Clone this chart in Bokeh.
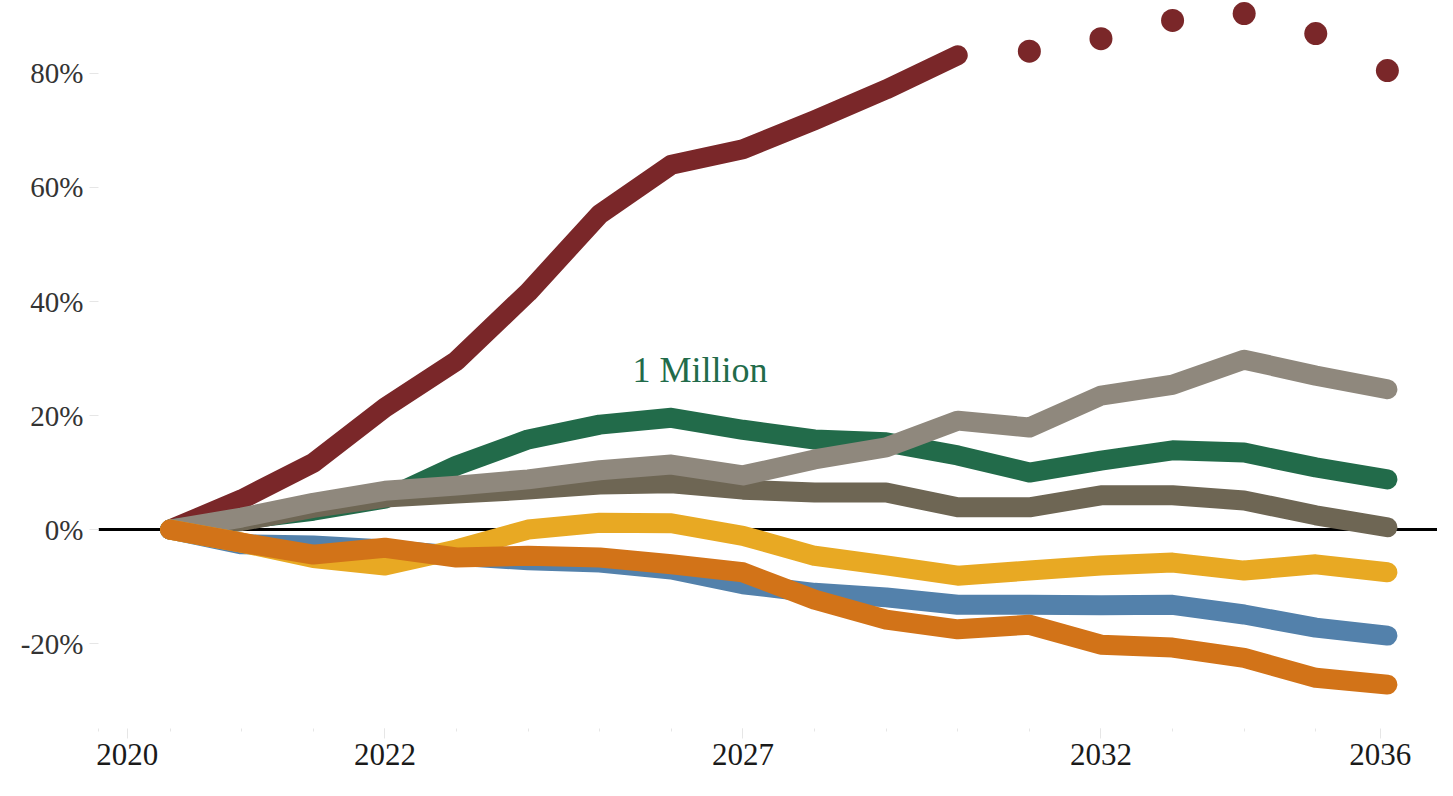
from bokeh.plotting import figure
from bokeh.models import Range1d, FixedTicker, PrintfTickFormatter, Span, Label
from bokeh.embed import file_html
from bokeh.resources import INLINE

# ---- data ----
years = list(range(2019, 2037))
red_vals = [0, 5.3, 11.7, 21.4, 29.6, 41.6, 55.3, 64.0, 66.7, 71.8, 77.2, 83.2,
            83.9, 86.1, 89.3, 90.5, 87.0, 80.5]
red_last_actual = 2030
green_vals = [0, 1.8, 3.3, 5.4, 11.2, 15.8, 18.4, 19.6, 17.5, 15.8, 15.3, 13.0,
              10.0, 12.1, 13.9, 13.5, 10.9, 8.8]
darkgray_vals = [0, 1.5, 3.8, 5.6, 6.3, 7.0, 7.9, 8.1, 7.0, 6.5, 6.5, 3.9,
                 3.9, 6.0, 6.0, 5.1, 2.5, 0.4]
lightgray_vals = [0, 2.1, 4.7, 6.8, 7.7, 8.8, 10.4, 11.4, 9.5, 12.3, 14.4, 19.1,
                  17.9, 23.5, 25.4, 29.8, 27.0, 24.6]
blue_vals = [0, -2.6, -2.8, -3.5, -4.6, -5.4, -5.8, -7.0, -9.6, -11.1, -11.9, -13.2,
             -13.2, -13.3, -13.2, -14.9, -17.2, -18.6]
yellow_vals = [0, -2.3, -5.0, -6.3, -3.5, 0.0, 1.2, 1.1, -1.1, -4.6, -6.3, -8.1,
               -7.2, -6.3, -5.8, -7.2, -6.1, -7.5]
orange_vals = [0, -2.3, -4.4, -3.2, -4.9, -4.6, -4.9, -6.1, -7.5, -12.3, -15.8, -17.5,
               -16.7, -20.2, -20.7, -22.5, -26.0, -27.2]

x_major_ticks = [2022, 2027, 2032]
x_end_label_pos = [2018.4, 2035.9]
x_end_labels = ["2020", "2036"]
y_ticks = [-20, 0, 20, 40, 60, 80]
annotation_text = "1 Million"

# ---- styles ----
RED = "#7a2729"
GREEN = "#226b4a"
DARKGRAY = "#6e6654"
LIGHTGRAY = "#8f887d"
BLUE = "#5381ab"
YELLOW = "#e8a923"
ORANGE = "#d27318"
FONT = "Liberation Serif"
LW = 20

p = figure(width=1437, height=780, output_backend="svg", toolbar_location=None,
           x_range=Range1d(2018, 2036.70), y_range=Range1d(-34.9, 92.8),
           min_border_left=98, min_border_right=0, min_border_top=0, min_border_bottom=52)
p.outline_line_color = None
p.grid.visible = False
p.background_fill_color = "white"
p.border_fill_color = "white"

zero = Span(location=0, dimension="width", line_color="black", line_width=3, level="underlay")
p.add_layout(zero)

split = years.index(red_last_actual) + 1
p.line(years[:split], red_vals[:split], line_color=RED, line_width=LW,
       line_cap="round", line_join="round")
p.scatter(years[split:], red_vals[split:], size=23, fill_color=RED, line_color=None)

for vals, col in [(green_vals, GREEN), (darkgray_vals, DARKGRAY), (lightgray_vals, LIGHTGRAY),
                  (blue_vals, BLUE), (yellow_vals, YELLOW), (orange_vals, ORANGE)]:
    p.line(years, vals, line_color=col, line_width=LW, line_cap="round", line_join="round")

# axes
xa = p.xaxis[0]
xa.ticker = FixedTicker(ticks=x_major_ticks + x_end_label_pos,
                        minor_ticks=[2018] + years[:-1])
xa.major_label_overrides = {pos: lab for pos, lab in zip(x_end_label_pos, x_end_labels)}
xa.axis_line_color = None
xa.major_tick_line_color = "#e6e6e6"
xa.major_tick_in = 0
xa.major_tick_out = 10
xa.minor_tick_line_color = "#e6e6e6"
xa.minor_tick_in = 0
xa.minor_tick_out = 3
xa.major_label_standoff = 5
xa.major_label_text_font = FONT
xa.major_label_text_font_size = "31px"
xa.major_label_text_color = "#1a1a1a"

ya = p.yaxis[0]
ya.ticker = FixedTicker(ticks=y_ticks, minor_ticks=[])
ya.formatter = PrintfTickFormatter(format="%d%%")
ya.axis_line_color = None
ya.major_tick_line_color = "#e6e6e6"
ya.major_tick_in = 0
ya.major_tick_out = 9
ya.minor_tick_line_color = None
ya.major_label_standoff = 6
ya.major_label_text_font = FONT
ya.major_label_text_font_size = "29px"
ya.major_label_text_color = "#333333"

p.add_layout(Label(x=2026.4, y=27.9, text=annotation_text, text_align="center",
                   text_baseline="middle", text_font=FONT, text_font_size="36px",
                   text_color=GREEN))

open("out.html", "w").write(file_html(p, INLINE))
